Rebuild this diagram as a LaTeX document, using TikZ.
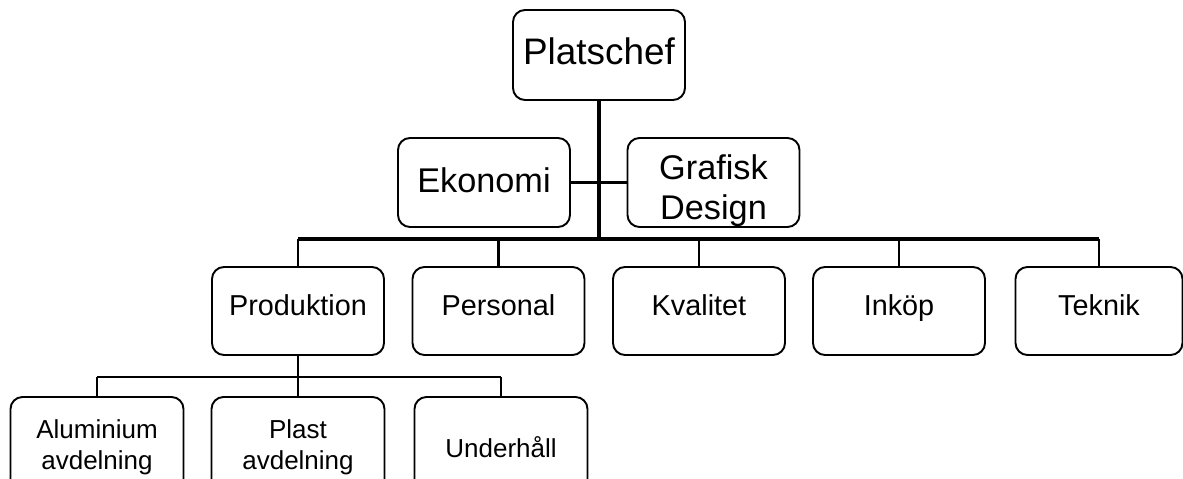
\documentclass[tikz,border=0pt]{standalone}
\usepackage{fontspec}
\setmainfont{Liberation Sans}
\usetikzlibrary{positioning}

\begin{document}
\begin{tikzpicture}[x=0.2mm,y=-0.2mm,
    unit/.style={draw,rounded corners=2.4mm,align=center,line width=1.1pt,
                 minimum width=34.4mm,minimum height=17.6mm,inner sep=1pt},
    topunit/.style={unit,minimum height=18mm,font=\fontsize{21}{24}\selectfont,
                    text height=15pt,text depth=4.6pt},
    staff/.style={unit,minimum height=17.8mm,font=\fontsize{19.5}{22.5}\selectfont},
    dept/.style={unit,font=\fontsize{16.4}{19}\selectfont,
                 text height=11.7pt,text depth=6.8pt},
    subunit/.style={unit,minimum width=34.6mm,minimum height=20mm,
                    font=\fontsize{14.8}{17.6}\selectfont},
    mainline/.style={line width=2pt},
    branch/.style={line width=1.4pt}
]
\useasboundingbox (0,0) rectangle (1183,479);
\clip (0,0) rectangle (1183,479);

% top
\node[topunit] (chef) at (599,55) {Platschef};
\node[staff,text height=14pt,text depth=2.8pt] (ekonomi) at (484,182.5) {Ekonomi};
\node[staff,text height=41.6pt,text depth=0pt] (grafisk) at (713.5,182.5) {Grafisk\\Design};

% departments
\node[dept] (prod) at (298,311) {Produktion};
\node[dept] (personal) at (498.5,311) {Personal};
\node[dept] (kvalitet) at (699,311) {Kvalitet};
\node[dept] (inkop) at (899,311) {Inköp};
\node[dept,minimum width=33.4mm] (teknik) at (1099,311) {Teknik};

% under Produktion
\node[subunit] (alu) at (97,447) {Aluminium\\avdelning};
\node[subunit] (plast) at (298,447) {Plast\\avdelning};
\node[subunit] (underhall) at (501,447) {Underhåll};

\coordinate (bus) at (599,239);
\coordinate (subbus) at (298,377);

\draw[branch] (ekonomi)--(grafisk);
\draw[mainline] (chef)--(bus);
\draw[mainline] (bus-|prod)--(bus-|teknik);
\draw[branch] (bus-|prod)--(prod);
\draw[branch] (bus-|personal)--(personal);
\draw[branch] (bus-|kvalitet)--(kvalitet);
\draw[branch] (bus-|inkop)--(inkop);
\draw[branch] (bus-|teknik)--(teknik);

\draw[branch] (prod)--(plast);
\draw[branch] (subbus-|alu)--(subbus-|underhall);
\draw[branch] (subbus-|alu)--(alu);
\draw[branch] (subbus-|underhall)--(underhall);
\end{tikzpicture}
\end{document}
